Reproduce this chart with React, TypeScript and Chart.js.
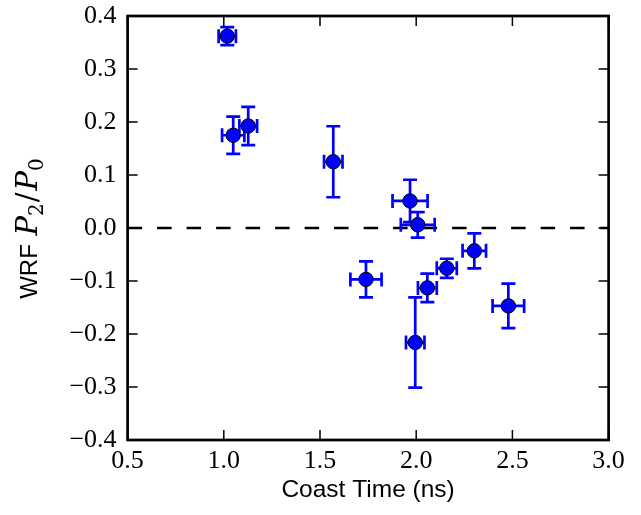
import React, { useEffect, useRef } from "react";
import { Chart, registerables } from "chart.js";

Chart.register(...registerables);

// ---- data ----
const coastTime = [1.018, 1.049, 1.127, 1.569, 1.968, 2.008, 1.739, 2.058, 2.159, 2.302, 2.479, 1.995];
const coastTimeErr = [0.045, 0.058, 0.046, 0.048, 0.091, 0.088, 0.081, 0.049, 0.052, 0.061, 0.082, 0.048];
const p2p0 = [0.362, 0.175, 0.1925, 0.125, 0.051, 0.006, -0.097, -0.113, -0.076, -0.043, -0.147, -0.216];
const p2p0Err = [0.017, 0.035, 0.036, 0.067, 0.04, 0.024, 0.034, 0.027, 0.018, 0.033, 0.042, 0.085];

const xLimits = [0.5, 3.0];
const yLimits = [-0.4, 0.4];
const xStep = 0.5;
const yStep = 0.1;
const referenceLevel = 0;

const xTitle = "Coast Time (ns)";
const yTitleParts = [
  { text: "WRF", kind: "sans" },
  { text: " ", kind: "space" },
  { text: "P", kind: "math" },
  { text: "2", kind: "sub" },
  { text: "/", kind: "slash" },
  { text: "P", kind: "math" },
  { text: "0", kind: "sub" },
];

const BLUE = "#0000ff";

function fmtTick(v: number): string {
  const r = Math.round(v * 10) / 10;
  if (r < 0) return "\u2212" + Math.abs(r).toFixed(1);
  return Math.abs(r).toFixed(1);
}

const errorBarPlugin = {
  id: "errorBars",
  beforeDatasetDraw(chart: any, args: any) {
    if (args.index !== 1) return;
    const ctx = chart.ctx;
    const xs = chart.scales.x;
    const ys = chart.scales.y;
    const cap = 7;
    ctx.save();
    ctx.strokeStyle = BLUE;
    ctx.lineWidth = 2.7;
    ctx.lineCap = "butt";
    for (let i = 0; i < coastTime.length; i++) {
      const cx = xs.getPixelForValue(coastTime[i]);
      const cy = ys.getPixelForValue(p2p0[i]);
      const x0 = xs.getPixelForValue(coastTime[i] - coastTimeErr[i]);
      const x1 = xs.getPixelForValue(coastTime[i] + coastTimeErr[i]);
      const y0 = ys.getPixelForValue(p2p0[i] - p2p0Err[i]);
      const y1 = ys.getPixelForValue(p2p0[i] + p2p0Err[i]);
      ctx.beginPath();
      ctx.moveTo(x0, cy);
      ctx.lineTo(x1, cy);
      ctx.moveTo(cx, y0);
      ctx.lineTo(cx, y1);
      ctx.moveTo(x0, cy - cap);
      ctx.lineTo(x0, cy + cap);
      ctx.moveTo(x1, cy - cap);
      ctx.lineTo(x1, cy + cap);
      ctx.moveTo(cx - cap, y0);
      ctx.lineTo(cx + cap, y0);
      ctx.moveTo(cx - cap, y1);
      ctx.lineTo(cx + cap, y1);
      ctx.stroke();
    }
    ctx.restore();
  },
};

const framePlugin = {
  id: "frame",
  afterDraw(chart: any) {
    const ctx = chart.ctx;
    const a = chart.chartArea;
    const xs = chart.scales.x;
    const ys = chart.scales.y;
    const tl = 10;
    ctx.save();
    ctx.strokeStyle = "#000";
    ctx.lineWidth = 1.5;
    ctx.beginPath();
    xs.ticks.forEach((t: any) => {
      const px = xs.getPixelForValue(t.value);
      ctx.moveTo(px, a.bottom);
      ctx.lineTo(px, a.bottom - tl);
      ctx.moveTo(px, a.top);
      ctx.lineTo(px, a.top + tl);
    });
    ys.ticks.forEach((t: any) => {
      const py = ys.getPixelForValue(t.value);
      ctx.moveTo(a.left, py);
      ctx.lineTo(a.left + tl, py);
      ctx.moveTo(a.right, py);
      ctx.lineTo(a.right - tl, py);
    });
    ctx.stroke();
    ctx.lineWidth = 2.7;
    ctx.strokeRect(a.left, a.top, a.right - a.left, a.bottom - a.top);

    // y title with sub-scripts
    const fonts: Record<string, string> = {
      sans: '24px "Liberation Sans"',
      space: '24px "Liberation Sans"',
      math: 'italic 29px "DejaVu Serif"',
      sub: '20px "DejaVu Serif"',
      slash: '29px "DejaVu Serif"',
    };
    const dys: Record<string, number> = { sans: 0, space: 0, math: 0, sub: 6, slash: 0 };
    const extra: Record<string, number> = { sans: 0, space: 2, math: 0, sub: 1, slash: 2 };
    let total = 0;
    const widths = yTitleParts.map((p) => {
      ctx.font = fonts[p.kind];
      const w = ctx.measureText(p.text).width + extra[p.kind];
      total += w;
      return w;
    });
    const cy = (a.top + a.bottom) / 2;
    ctx.translate(37, cy);
    ctx.rotate(-Math.PI / 2);
    ctx.fillStyle = "#000";
    ctx.textBaseline = "alphabetic";
    ctx.textAlign = "left";
    let x = -total / 2;
    yTitleParts.forEach((p, i) => {
      ctx.font = fonts[p.kind];
      ctx.fillText(p.text, x, dys[p.kind]);
      x += widths[i];
    });
    ctx.restore();
  },
};

export default function App() {
  const ref = useRef<HTMLCanvasElement | null>(null);

  useEffect(() => {
    if (!ref.current) return;
    const points = coastTime.map((x, i) => ({ x, y: p2p0[i] }));
    const zeroLine = [
      { x: xLimits[0], y: referenceLevel },
      { x: xLimits[1], y: referenceLevel },
    ];
    const chart = new Chart(ref.current, {
      type: "scatter",
      data: {
        datasets: [
          {
            data: zeroLine,
            showLine: true,
            borderColor: "#000",
            borderWidth: 2.7,
            borderDash: [14.5, 15],
            pointRadius: 0,
            order: 2,
          } as any,
          {
            data: points,
            pointRadius: 7.2,
            pointBackgroundColor: BLUE,
            pointBorderColor: "#000",
            pointBorderWidth: 1,
            order: 1,
            clip: false,
          } as any,
        ],
      },
      options: {
        animation: false,
        responsive: false,
        events: [],
        layout: { padding: { left: 0, right: 32.4, top: 16, bottom: 0 } },
        plugins: { legend: { display: false }, tooltip: { enabled: false } },
        scales: {
          x: {
            type: "linear",
            min: xLimits[0],
            max: xLimits[1],
            grid: { display: false, drawTicks: false },
            border: { display: false },
            ticks: {
              stepSize: xStep,
              padding: 6,
              color: "#000",
              font: { family: "Liberation Serif", size: 26 },
              callback: (v: any) => fmtTick(Number(v)),
              maxRotation: 0,
            },
            title: {
              display: true,
              text: xTitle,
              color: "#000",
              font: { family: "Liberation Sans", size: 24.5 },
              padding: { top: 0, bottom: 10 },
            },
            afterFit: (s: any) => {
              s.height = 75;
              s.paddingLeft = 0;
              s.paddingRight = 0;
            },
          },
          y: {
            type: "linear",
            min: yLimits[0],
            max: yLimits[1],
            grid: { display: false, drawTicks: false },
            border: { display: false },
            ticks: {
              stepSize: yStep,
              padding: 11,
              color: "#000",
              font: { family: "Liberation Serif", size: 26 },
              callback: (v: any) => fmtTick(Number(v)),
            },
            afterFit: (s: any) => {
              s.width = 127.6;
              s.paddingTop = 0;
              s.paddingBottom = 0;
            },
          },
        },
      },
      plugins: [errorBarPlugin, framePlugin],
    });
    return () => chart.destroy();
  }, []);

  return (
    <div style={{ position: "absolute", left: 0, top: 0, width: 641, height: 515, background: "#fff" }}>
      <canvas ref={ref} width={641} height={515} style={{ width: 641, height: 515, display: "block" }} />
    </div>
  );
}
